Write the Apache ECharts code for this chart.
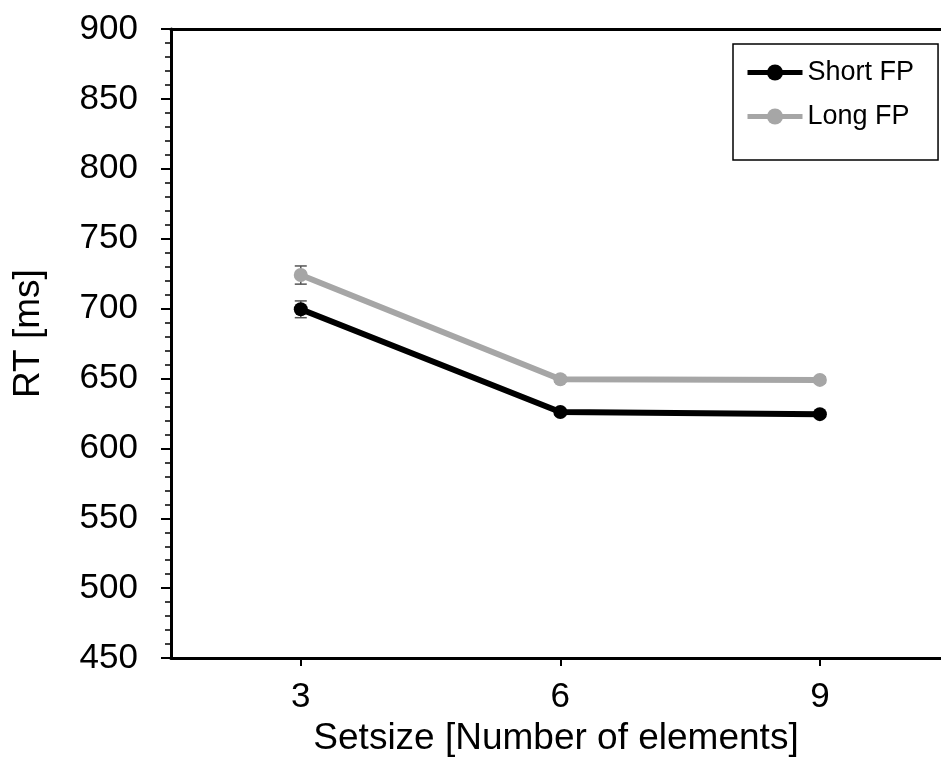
<!DOCTYPE html>
<html>
<head>
<meta charset="utf-8">
<script src="https://cdn.jsdelivr.net/npm/echarts@6/dist/echarts.min.js"></script>
<style>
  html, body { margin: 0; padding: 0; background: #fff; }
  #chart { width: 941px; height: 762px; }
</style>
</head>
<body>
<div id="chart"></div>
<script>
// data
var setsizes = [3, 6, 9];
var shortFP = [699.5, 626, 624.5];
var longFP = [724, 649.5, 649];
var shortErr = [6, 2, 2];
var longErr = [6.5, 2, 2];
var seriesNames = ['Short FP', 'Long FP'];

var FONT = '"Liberation Sans", Arial, sans-serif';
var chart = echarts.init(document.getElementById('chart'));

function pairs(vals) {
    var out = [];
    for (var i = 0; i < setsizes.length; i++) out.push([setsizes[i], vals[i]]);
    return out;
}
function errData(vals, errs) {
    var out = [];
    for (var i = 0; i < setsizes.length; i++) out.push([setsizes[i], vals[i] - errs[i], vals[i] + errs[i]]);
    return out;
}
// error bar: vertical line with caps
function renderErr(params, api) {
    var lo = api.coord([api.value(0), api.value(1)]);
    var hi = api.coord([api.value(0), api.value(2)]);
    var w = 6;
    var st = { stroke: '#555', lineWidth: 1.5 };
    return {
        type: 'group',
        children: [
            { type: 'line', shape: { x1: lo[0], y1: lo[1], x2: hi[0], y2: hi[1] }, style: st },
            { type: 'line', shape: { x1: lo[0] - w, y1: lo[1], x2: lo[0] + w, y2: lo[1] }, style: st },
            { type: 'line', shape: { x1: hi[0] - w, y1: hi[1], x2: hi[0] + w, y2: hi[1] }, style: st }
        ]
    };
}

var option = {
    animation: false,
    backgroundColor: '#fff',
    grid: { left: 171, top: 29, right: 0, bottom: 103 },
    legend: {
        data: seriesNames,
        orient: 'vertical',
        left: 733,
        top: 44,
        padding: [15, 24, 30, 12],
        itemGap: 17,
        itemWidth: 55,
        itemHeight: 20,
        borderColor: '#000',
        borderWidth: 1.5,
        lineStyle: { width: 5 },
        textStyle: { fontFamily: FONT, fontSize: 27, color: '#000' }
    },
    xAxis: [{
        type: 'value',
        min: 1.5,
        max: 10.4,
        name: 'Setsize [Number of elements]',
        nameLocation: 'middle',
        nameGap: 54,
        nameTextStyle: { fontFamily: FONT, fontSize: 37, color: '#000' },
        splitLine: { show: false },
        axisLine: { lineStyle: { color: '#000', width: 3 } },
        axisTick: { show: true, length: 8, lineStyle: { color: '#000', width: 2 }, customValues: setsizes },
        axisLabel: { margin: 22, fontFamily: FONT, fontSize: 35, color: '#000', customValues: setsizes }
    }, {
        type: 'value',
        position: 'top',
        min: 1.5,
        max: 10.4,
        splitLine: { show: false },
        axisLine: { show: true, lineStyle: { color: '#000', width: 3 } },
        axisTick: { show: false },
        axisLabel: { show: false }
    }],
    yAxis: {
        type: 'value',
        min: 450,
        max: 900,
        interval: 50,
        name: 'RT [ms]',
        nameLocation: 'middle',
        nameGap: 124,
        nameTextStyle: { fontFamily: FONT, fontSize: 37, color: '#000', padding: [0, 0, 0, 20] },
        splitLine: { show: false },
        axisLine: { show: true, lineStyle: { color: '#000', width: 3 } },
        axisTick: { show: true, length: 10, lineStyle: { color: '#000', width: 2 } },
        minorTick: { show: true, splitNumber: 5, length: 6, lineStyle: { color: '#000', width: 1.5 } },
        axisLabel: { margin: 33, fontFamily: FONT, fontSize: 35, color: '#000' }
    },
    series: [{
        name: seriesNames[0],
        type: 'line',
        data: pairs(shortFP),
        symbol: 'circle',
        symbolSize: 14,
        itemStyle: { color: '#000' },
        lineStyle: { color: '#000', width: 6 },
        z: 3
    }, {
        name: seriesNames[1],
        type: 'line',
        data: pairs(longFP),
        symbol: 'circle',
        symbolSize: 14,
        itemStyle: { color: '#a6a6a6' },
        lineStyle: { color: '#a6a6a6', width: 6 },
        z: 3
    }, {
        type: 'custom',
        renderItem: renderErr,
        data: errData(shortFP, shortErr),
        encode: { x: 0, y: [1, 2] },
        z: 2
    }, {
        type: 'custom',
        renderItem: renderErr,
        data: errData(longFP, longErr),
        encode: { x: 0, y: [1, 2] },
        z: 2
    }]
};
chart.setOption(option);
</script>
</body>
</html>
